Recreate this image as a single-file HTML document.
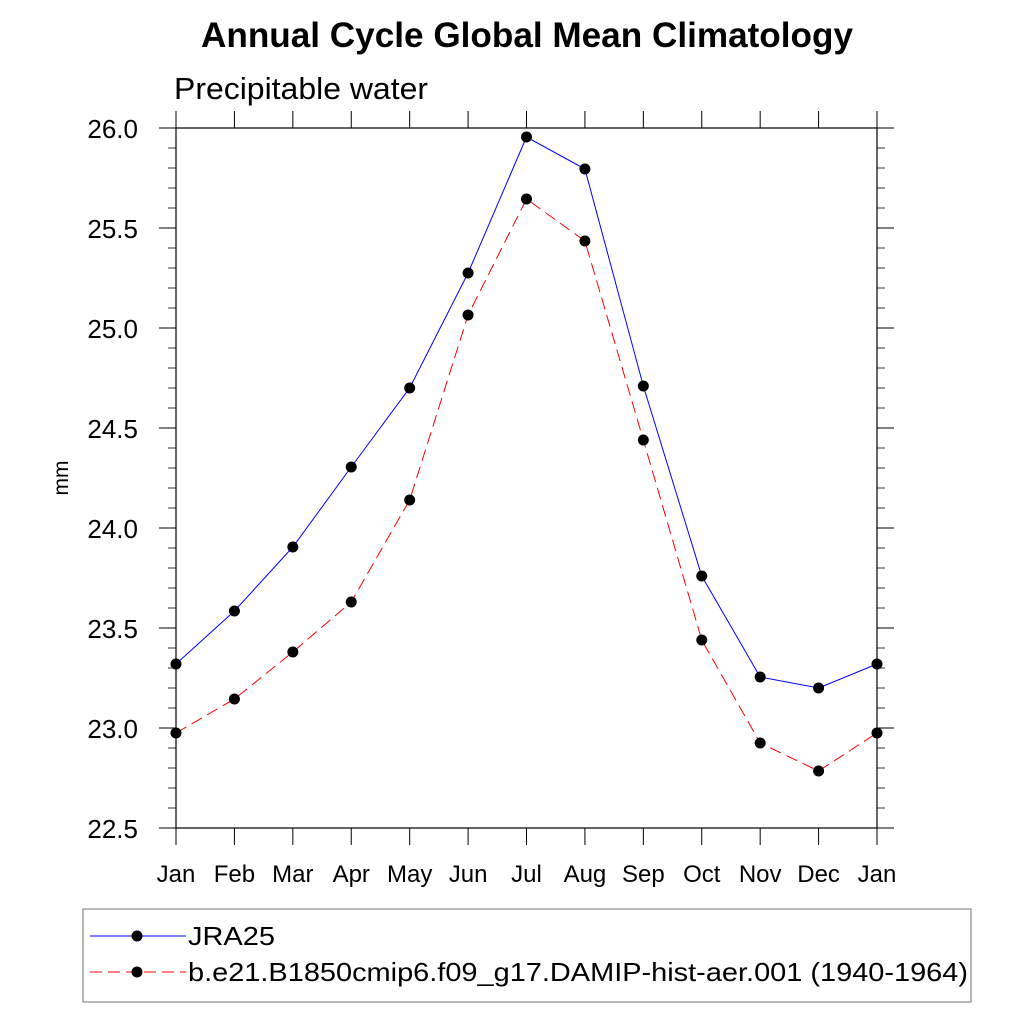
<!DOCTYPE html>
<html><head><meta charset="utf-8"><style>
html,body{margin:0;padding:0;background:#fff;}
svg{display:block;font-family:"Liberation Sans",sans-serif;}
</style></head><body>
<svg id="chart" width="1024" height="1024" viewBox="0 0 1024 1024" xmlns="http://www.w3.org/2000/svg">
<text x="201" y="47" font-size="35" font-weight="bold" textLength="652" lengthAdjust="spacingAndGlyphs">Annual Cycle Global Mean Climatology</text>
<text x="174" y="99" font-size="31" textLength="254" lengthAdjust="spacingAndGlyphs">Precipitable water</text>
<text transform="translate(68,478) rotate(-90)" font-size="21" text-anchor="middle">mm</text>
<g id="axes"></g>
<g id="series"></g>
<g>
<rect x="83" y="909" width="888" height="93" fill="none" stroke="#888" stroke-width="1.2"/>
<line x1="90" y1="936" x2="186" y2="936" stroke="#0000ff" stroke-width="1"/>
<circle cx="137" cy="936" r="5.5" fill="#000"/>
<text x="188" y="945" font-size="26" textLength="87" lengthAdjust="spacingAndGlyphs">JRA25</text>
<line x1="90" y1="972" x2="186" y2="972" stroke="#ff0000" stroke-width="1" stroke-dasharray="12,6"/>
<circle cx="137" cy="972" r="5.5" fill="#000"/>
<text x="188" y="981" font-size="26" textLength="780" lengthAdjust="spacingAndGlyphs">b.e21.B1850cmip6.f09_g17.DAMIP-hist-aer.001 (1940-1964)</text>
</g>
</svg>
<script>
const months = ["Jan","Feb","Mar","Apr","May","Jun","Jul","Aug","Sep","Oct","Nov","Dec","Jan"];
const jra25 = [23.32,23.585,23.905,24.305,24.70,25.275,25.955,25.795,24.71,23.76,23.255,23.20,23.32];
const model = [22.975,23.145,23.38,23.63,24.14,25.065,25.645,25.435,24.44,23.44,22.925,22.785,22.975];
const yTicks = ["22.5","23.0","23.5","24.0","24.5","25.0","25.5","26.0"];

const NS = "http://www.w3.org/2000/svg";
const L = 176, R = 877, T = 128, B = 828, yMin = 22.5, yMax = 26.0;
function xs(i){ return L + (R - L) * i / (months.length - 1); }
function ys(v){ return B - (v - yMin) / (yMax - yMin) * (B - T); }
function mk(tag, attrs, parent){ const e = document.createElementNS(NS, tag); for (const k in attrs) e.setAttribute(k, attrs[k]); parent.appendChild(e); return e; }

const axes = document.getElementById("axes");
const frame = mk("rect", {x:L, y:T, width:R-L, height:B-T, fill:"none", stroke:"#000", "stroke-width":1.2}, axes);



months.forEach((m, i) => {
  const x = xs(i);
  const t1 = mk("line", {x1:x, y1:B, x2:x, y2:B+17, stroke:"#000"}, axes);
  
  
  const t2 = mk("line", {x1:x, y1:T, x2:x, y2:T-17, stroke:"#000"}, axes);
  
  
  const lb = mk("text", {x:x, y:882, "font-size":24, "text-anchor":"middle"}, axes);
  lb.textContent = m;
  
  
});

yTicks.forEach(t => {
  const y = ys(parseFloat(t));
  const a = mk("line", {x1:L-17, y1:y, x2:L, y2:y, stroke:"#000"}, axes);
  
  
  const b = mk("line", {x1:R, y1:y, x2:R+17, y2:y, stroke:"#000"}, axes);
  
  
  const lb = mk("text", {x:138, y:y+10, "font-size":26, "text-anchor":"end"}, axes);
  lb.textContent = t;
  
  
});
for (let k = 1; k < 35; k++) {
  if (k % 5 === 0) continue;
  const y = ys(yMin + k * 0.1);
  const a = mk("line", {x1:L-8, y1:y, x2:L, y2:y, stroke:"#000", "stroke-width":0.8}, axes);
  
  
  const b = mk("line", {x1:R, y1:y, x2:R+8, y2:y, stroke:"#000", "stroke-width":0.8}, axes);
  
  
}

const series = document.getElementById("series");
function drawSeries(vals, color, dash, name){
  const pts = vals.map((v, i) => xs(i) + "," + ys(v)).join(" ");
  const pl = mk("polyline", {points:pts, fill:"none", stroke:color, "stroke-width":1, "stroke-dasharray":dash}, series);
  
  
  vals.forEach((v, i) => {
    const c = mk("circle", {cx:xs(i), cy:ys(v), r:5.5, fill:"#000"}, series);
    
    
  });
}
drawSeries(jra25, "#0000ff", "none", "jra25");
drawSeries(model, "#ff0000", "12,6", "model");
</script>
</body></html>
